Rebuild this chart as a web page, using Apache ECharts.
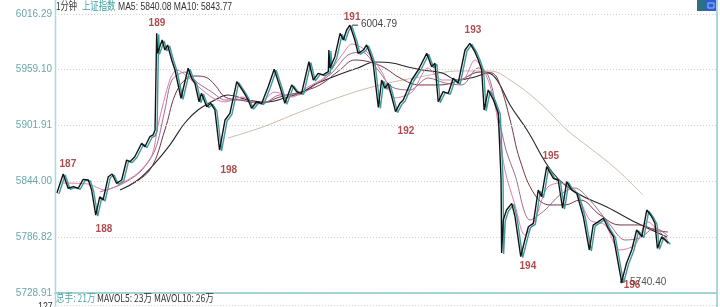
<!DOCTYPE html>
<html><head><meta charset="utf-8">
<script src="https://cdn.jsdelivr.net/npm/echarts@6/dist/echarts.min.js"></script>
<style>html,body{margin:0;padding:0;background:#fff}#c{width:720px;height:307px}</style>
</head><body><div id="c"></div>
<script>
// ---- data (x = minute of session, y = index level) ----
const tickLabels = ['5728.91','5786.82','5844.00','5901.91','5959.10','6016.29'];
const yMin = 5728.91, yMax = 6016.29;

const priceTime = [0,2.3,4.1,6.0,7.8,9.6,11.5,12.7,14.2,15.7,16.9,18.8,20.2,21.8,23.7,25.5,26.7,28.5,31.0,32.2,34.0,35.2,35.9,36.5,36.8,38.5,39.5,40.5,42.0,43.2,45.4,48.0,49.3,50.5,52.0,52.9,54.8,56.3,57.8,59.5,61.5,63.3,65.8,68.2,70.0,71.2,73.1,74.9,77.3,79.5,81.6,83.4,85.9,87.7,89.5,92.2,93.8,95.6,97.4,99.3,99.5,99.9,101.7,103.6,104.8,106.0,107.2,109.0,110.2,112.1,113.3,114.5,115.7,117.6,118.8,120.0,121.2,122.5,123.9,125.5,126.7,129.8,132.2,135.3,137.1,138.3,139.5,141.3,143.2,145.0,146.8,149.3,151.1,152.9,154.2,155.4,156.3,157.8,159.7,161.5,162.5,162.7,163.3,164.5,166.4,167.6,169.7,171.2,172.5,174.3,176.1,177.3,179.2,181.6,183.4,185.0,186.5,188.3,190.2,192.6,194.8,196.2,198.1,199.9,201.7,203.6,206.6,208.4,210.3,212.1,214.0,215.8,217.6,218.8,219.7,221.3,222.5,223.7];
const priceValue = [5832.0,5851.5,5836.8,5838.4,5836.8,5846.0,5845.3,5835.0,5809.2,5828.1,5824.7,5848.7,5851.5,5841.9,5845.3,5865.9,5864.2,5869.3,5883.1,5879.6,5889.9,5891.7,5896.8,5996.4,5975.8,5989.5,5979.2,5984.4,5968.9,5958.6,5929.5,5960.4,5950.1,5944.9,5925.9,5934.6,5920.8,5924.3,5917.4,5876.2,5907.1,5914.0,5946.6,5936.3,5927.7,5919.2,5925.9,5924.0,5941.4,5959.3,5941.4,5924.3,5943.2,5936.3,5934.6,5967.1,5948.3,5955.2,5953.5,5956.9,5979.2,5960.7,5972.3,5996.4,5989.5,5999.8,6004.79,5989.5,5975.8,5979.2,5984.4,5975.8,5965.5,5920.0,5948.3,5939.8,5944.9,5931.1,5915.7,5924.3,5927.7,5948.3,5958.6,5975.8,5962.0,5965.5,5925.9,5936.3,5934.6,5950.1,5944.9,5979.2,5986.1,5977.5,5968.9,5958.6,5917.4,5938.0,5927.7,5914.0,5845.3,5770.1,5804.1,5814.4,5821.3,5807.5,5766.3,5783.5,5797.2,5800.7,5835.0,5828.1,5859.0,5847.1,5845.3,5816.2,5843.6,5835.0,5831.6,5807.5,5773.2,5798.9,5802.4,5805.9,5795.6,5787.0,5740.40,5759.5,5773.2,5793.8,5786.9,5814.4,5807.5,5800.7,5774.9,5786.9,5783.5,5780.1];

const pinkTime = [1.8,11.3,17.6,23.8,29.6,34.8,37.0,41.3,43.9,47.9,52.3,57.1,61.5,67.7,73.5,79.8,86.0,91.8,98.1,104.3,108.0,112.7,118.9,123.7,129.9,135.8,140.9,148.2,152.9,157.0,160.3,163.9,167.6,171.2,174.9,179.3,184.0,189.5,195.0,200.5,206.0,211.5,216.2,220.6,223.6];
const pinkValue = [5842.2,5841.2,5835.0,5842.2,5852.5,5871.1,5901.8,5948.3,5958.6,5951.4,5940.1,5929.8,5925.7,5930.8,5923.6,5935.9,5930.8,5941.1,5951.4,5974.1,5985.4,5979.2,5956.5,5929.8,5935.9,5960.7,5948.3,5948.3,5968.9,5953.5,5922.6,5855.6,5819.6,5788.6,5804.1,5837.1,5842.2,5835.0,5804.1,5799.0,5773.2,5778.4,5802.1,5791.7,5783.5];

const purpleTime = [15.7,23.1,30.4,35.9,39.5,42.1,46.8,51.6,56.7,61.5,68.8,75.0,81.6,88.2,94.4,100.6,106.5,111.6,117.5,122.6,129.2,135.8,142.0,148.2,154.1,157.7,161.0,164.3,167.6,173.1,178.6,184.0,189.5,195.0,202.4,207.8,213.3,218.8,223.6];
const purpleValue = [5833.0,5840.2,5853.5,5876.2,5917.4,5948.3,5956.5,5945.2,5935.9,5927.7,5927.7,5923.6,5932.9,5932.9,5943.2,5955.5,5974.1,5977.1,5958.6,5941.1,5938.0,5950.4,5945.2,5943.2,5960.7,5953.5,5917.4,5876.2,5850.5,5804.1,5814.4,5829.9,5837.1,5824.7,5799.0,5783.5,5785.6,5795.9,5787.6];

const maroonTime = [26.7,34.0,39.5,43.2,46.8,50.5,54.2,57.8,61.5,67.0,74.3,81.6,88.9,96.2,103.5,109.0,114.5,120.0,125.5,132.8,140.1,147.5,154.8,159.2,162.1,165.8,169.4,174.9,180.4,185.9,191.4,198.7,206.0,213.3,218.8,223.6];
const maroonValue = [5840.2,5855.6,5896.8,5932.9,5948.3,5952.4,5951.4,5943.2,5930.8,5927.7,5924.6,5930.8,5935.9,5943.2,5958.6,5968.9,5966.8,5960.7,5950.4,5943.2,5943.2,5948.3,5956.5,5955.5,5943.2,5907.1,5865.9,5829.9,5819.6,5819.6,5824.7,5809.3,5799.0,5799.0,5793.8,5791.7];

const blackTime = [23.1,29.6,35.9,41.3,46.8,51.6,57.8,62.6,69.9,76.1,83.4,89.7,95.5,102.8,110.1,116.4,122.6,128.4,133.6,140.9,146.7,152.9,157.7,161.0,165.8,172.0,181.5,190.3,201.2,212.2,223.2];
const blackValue = [5835.0,5845.3,5862.8,5881.3,5904.0,5917.4,5927.7,5932.9,5927.7,5925.6,5929.8,5935.9,5945.2,5953.5,5960.7,5966.8,5965.8,5961.7,5958.6,5955.5,5948.3,5951.4,5955.5,5948.3,5922.6,5896.8,5852.5,5831.9,5817.5,5801.0,5786.6];

const tanTime = [62.6,74.3,88.9,103.5,118.2,132.8,147.5,158.4,165.8,176.7,186.6,195.0,204.2,214.4];
const tanValue = [5888.6,5898.9,5915.3,5930.8,5943.2,5951.4,5957.6,5957.6,5948.3,5924.6,5896.8,5878.3,5857.7,5829.9];

const annoText  = ['187','188','189','191','193','192','198','195','194','196'];
const annoTime  = [4.0,17.2,36.6,108.0,152.2,127.7,62.9,180.7,172.3,210.4];
const annoValue = [5861.8,5794.8,6007.0,6013.2,5999.8,5895.8,5855.6,5870.0,5756.7,5737.2];

// ---- build ----
const zip = (a, b) => a.map((t, i) => [t, b[i]]);
let maxIdx = 0, minIdx = 0;
priceValue.forEach((v, i) => { if (v > priceValue[maxIdx]) maxIdx = i; if (v < priceValue[minIdx]) minIdx = i; });

const FONT = '"Liberation Sans", Arial, sans-serif';
const CJK = '"Noto Sans CJK SC", sans-serif';
const lineS = (name, data, color, width, smooth, z) => ({
  name, type: 'line', data, showSymbol: false, smooth: smooth, z: z || 2,
  lineStyle: { color, width }, emphasis: { disabled: true }, silent: true
});
const txt = (x, y, text, fill, font, sx) => ({ type: 'text', x, y, scaleX: sx, z: 10, silent: true,
  style: { text, fill, font, textVerticalAlign: 'top' } });

const chart = echarts.init(document.getElementById('c'), null, { renderer: 'canvas' });
chart.setOption({
  animation: false,
  backgroundColor: '#fff',
  grid: { left: 55, right: 3, top: 14, bottom: 14, containLabel: false },
  xAxis: { type: 'value', min: -0.7, max: 241.5, show: true,
    axisLine: { show: true, lineStyle: { color: '#9fd3d6', width: 2 } },
    axisTick: { show: false }, axisLabel: { show: false }, splitLine: { show: false } },
  yAxis: { type: 'value', min: yMin, max: yMax, axisLine: { show: false },
    axisTick: { show: false }, axisLabel: { show: false }, splitLine: { show: false } },
  graphic: [
    { type: 'line', shape: { x1: 55.5, y1: 0, x2: 55.5, y2: 307 }, style: { stroke: '#a9d8da', lineWidth: 1.5 }, z: 10 },
    { type: 'line', shape: { x1: 717, y1: 0, x2: 717, y2: 307 }, style: { stroke: '#a9d8da', lineWidth: 2 }, z: 10 },
    { type: 'line', shape: { x1: 55, y1: 305.5, x2: 717, y2: 305.5 }, style: { stroke: '#d6d6d6', lineWidth: 1, lineDash: [1, 2] }, z: 10 },
    { type: 'rect', shape: { x: 697, y: 0, width: 9, height: 11 }, style: { fill: '#2f6f86' }, z: 10 },
    { type: 'rect', shape: { x: 706, y: 0, width: 10, height: 11 }, style: { fill: '#2c5fd0' }, z: 10 },
    { type: 'rect', shape: { x: 708, y: 3, width: 6, height: 5 }, style: { fill: 'none', stroke: '#9ec0ff', lineWidth: 1 }, z: 11 },
    txt(56, 0, '1分钟', '#333', '11px ' + CJK, 0.75),
    txt(82, 0, '上证指数', '#3aa0a0', '11px ' + CJK, 0.76),
    txt(118, 1, 'MA5: 5840.08 MA10: 5843.77', '#333', '11px ' + FONT, 0.78),
    txt(56, 292, '总手: 21万', '#4aa5a8', '11px ' + CJK, 0.78),
    txt(97, 292, 'MAVOL5: 23万 MAVOL10: 26万', '#333', '11px ' + CJK, 0.78),
    txt(38, 301, '127', '#333', '11px ' + FONT, 0.8)
  ],
  series: [
    Object.assign(lineS('tan', zip(tanTime, tanValue), '#cdbcae', 1, 0.4, 1), {
      markLine: { silent: true, symbol: 'none', animation: false,
        lineStyle: { color: '#cfcfcf', type: [1, 2], width: 1 },
        label: { show: true, position: 'start', distance: 3, color: '#6aa7ad', fontSize: 10, fontFamily: FONT,
                 formatter: p => tickLabels[p.dataIndex] },
        data: tickLabels.map(s => ({ yAxis: Number(s) })) }
    }),
    lineS('ma60', zip(blackTime, blackValue), '#262626', 1.1, 0.4, 2),
    lineS('ma30', zip(maroonTime, maroonValue), '#7a3442', 1, 0.4, 3),
    lineS('ma20', zip(purpleTime, purpleValue), '#a06a8f', 1, 0.3, 4),
    lineS('ma10', zip(pinkTime, pinkValue), '#e07cab', 1, 0.3, 5),
    Object.assign(lineS('price', zip(priceTime, priceValue), '#141414', 1.4, false, 6), {
      lineStyle: { color: '#141414', width: 1.4, shadowColor: '#3f9a9c', shadowBlur: 0, shadowOffsetX: 2, shadowOffsetY: 1 },
      markPoint: { silent: true, animation: false,
        data: [
          { coord: [priceTime[maxIdx], priceValue[maxIdx]], value: priceValue[maxIdx].toFixed(2), symbol: 'rect', symbolSize: [6, 1], symbolOffset: [5, 0],
            label: { show: true, position: 'right', distance: 3, offset: [0, -1], formatter: p => p.value, color: '#444', fontSize: 10, fontFamily: FONT } },
          { coord: [priceTime[minIdx], priceValue[minIdx]], value: priceValue[minIdx].toFixed(2), symbol: 'circle', symbolSize: 3,
            label: { show: true, position: 'right', distance: 7, offset: [0, 0], formatter: p => p.value, color: '#555', fontSize: 10, fontFamily: FONT } }
        ],
        itemStyle: { color: '#333' } }
    }),
    { name: 'notes', type: 'scatter', data: zip(annoTime, annoValue), symbolSize: 0, z: 8, silent: true,
      label: { show: true, position: 'inside', formatter: p => annoText[p.dataIndex],
               color: '#9a1f22', fontSize: 10, fontWeight: 'bold', fontFamily: FONT } }
  ]
});
</script></body></html>
